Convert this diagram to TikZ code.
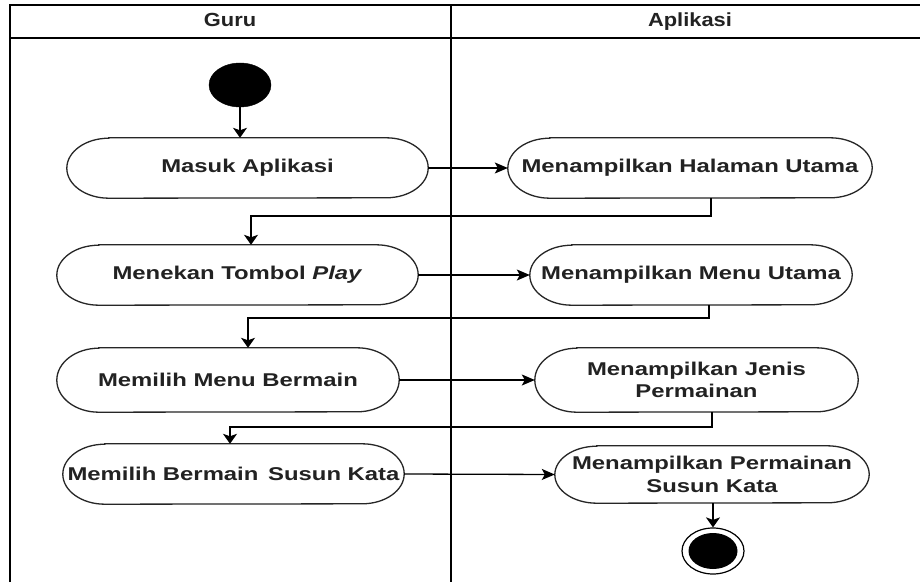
\documentclass[tikz,border=0pt]{standalone}
\usepackage{fontspec}
\setmainfont{Liberation Sans}
\newfontfamily\nodefont[FakeStretch=1.29]{Liberation Sans}
\newfontfamily\headfont[FakeStretch=1.15]{Liberation Sans}
\usetikzlibrary{shapes.geometric,arrows.meta,calc}
\definecolor{inkc}{HTML}{222222}
\tikzset{
  act/.style={draw=none, inner sep=0pt, align=center, text=inkc,
    font=\nodefont\bfseries\fontsize{18.5}{22.3}\selectfont},
  actline/.style={draw=black!85, line width=1.3pt},
  laneline/.style={draw=black, line width=1.7pt},
  headtext/.style={inner sep=0pt, text=inkc, anchor=base,
    font=\headfont\bfseries\fontsize{19}{22}\selectfont},
  conn/.style={draw=black, line width=1.3pt},
  harr/.style={conn, -{Stealth[length=13pt,width=11pt,inset=3pt]}},
  varr/.style={conn, -{Stealth[length=10pt,width=14pt,inset=2.5pt]}},
}
\newcommand\actoutline[2]{%
  \draw[actline] ([xshift=42pt]#1.north west) -- ([xshift=-42pt]#1.north east)
    arc[start angle=90,end angle=-90,x radius=42pt,y radius=#2]
    -- ([xshift=42pt]#1.south west)
    arc[start angle=270,end angle=90,x radius=42pt,y radius=#2] -- cycle;}
\begin{document}
\begin{tikzpicture}[x=1pt,y=1pt]
\useasboundingbox (0,0) rectangle (920,582);
\fill[white] (0,0) rectangle (920,582);
% swimlanes
\coordinate (fTL) at (10,577);
\coordinate (fTR) at (920,577);
\coordinate (fBL) at (10,0);
\coordinate (hL) at (10,544);
\coordinate (hR) at (920,544);
\coordinate (dT) at (451,577);
\coordinate (dB) at (451,0);
\draw[laneline] (fBL) -- (fTL) -- (fTR);
\draw[laneline] (hL) -- (hR);
\draw[laneline] (dT) -- (dB);
\node[headtext] (hguru) at (230,555) {Guru};
\node[headtext] (happ) at (690,555) {Aplikasi};
% start
\node[ellipse, fill=black, draw=black, minimum width=62pt, minimum height=44pt, inner sep=0pt] (start) at (240,497) {};
% activities
\node[act, minimum width=361pt, minimum height=60pt] (masuk) at (247.5,414) {Masuk Aplikasi};
\node[act, minimum width=364pt, minimum height=60pt] (hal) at (690,414) {Menampilkan Halaman Utama};
\node[act, minimum width=361pt, minimum height=60pt] (tekan) at (237.5,307) {Menekan Tombol \textit{Play}};
\node[act, minimum width=322pt, minimum height=60pt] (menu) at (691,307) {Menampilkan Menu Utama};
\node[act, minimum width=342pt, minimum height=64pt] (pilmenu) at (228,202) {Memilih Menu Bermain};
\node[act, minimum width=323pt, minimum height=64pt] (jenis) at (696.5,202) {Menampilkan Jenis\\Permainan};
\node[act, minimum width=341pt, minimum height=60pt] (pilsusun) at (233.5,108) {Memilih Bermain\ \,Susun Kata};
\node[act, minimum width=314pt, minimum height=57pt] (perm) at (712,107.5) {Menampilkan Permainan\\Susun Kata};
\actoutline{masuk}{30pt}
\actoutline{hal}{30pt}
\actoutline{tekan}{30pt}
\actoutline{menu}{30pt}
\actoutline{pilmenu}{32pt}
\actoutline{jenis}{32pt}
\actoutline{pilsusun}{30pt}
\actoutline{perm}{28.5pt}
% end
\node[ellipse, draw=black, fill=white, line width=1.2pt, minimum width=62pt, minimum height=46pt, inner sep=0pt] (end) at (713,31) {};
\node[ellipse, fill=black, minimum width=49pt, minimum height=36pt, inner sep=0pt] (endin) at (end.center) {};
% bend coordinates
\coordinate (b1) at (711,366);
\coordinate (c1) at (251,366);
\coordinate (b2) at (709,264);
\coordinate (c2) at (248,264);
\coordinate (b3) at (712,155);
\coordinate (c3) at (230,155);
% connectors
\draw[varr] (start.south) -- (start.south |- masuk.north);
\draw[harr] (masuk.east) -- (hal.west);
\draw[varr] (hal.south -| b1) -- (b1) -- (c1) -- (c1 |- tekan.north);
\draw[harr] (tekan.east) -- (menu.west);
\draw[varr] (menu.south -| b2) -- (b2) -- (c2) -- (c2 |- pilmenu.north);
\draw[harr] (pilmenu.east) -- (jenis.west);
\draw[varr] (jenis.south -| b3) -- (b3) -- (c3) -- (c3 |- pilsusun.north);
\draw[harr] (pilsusun.east) -- (perm.west);
\draw[varr] (perm.south -| end.north) -- (end.north);
\end{tikzpicture}
\end{document}
